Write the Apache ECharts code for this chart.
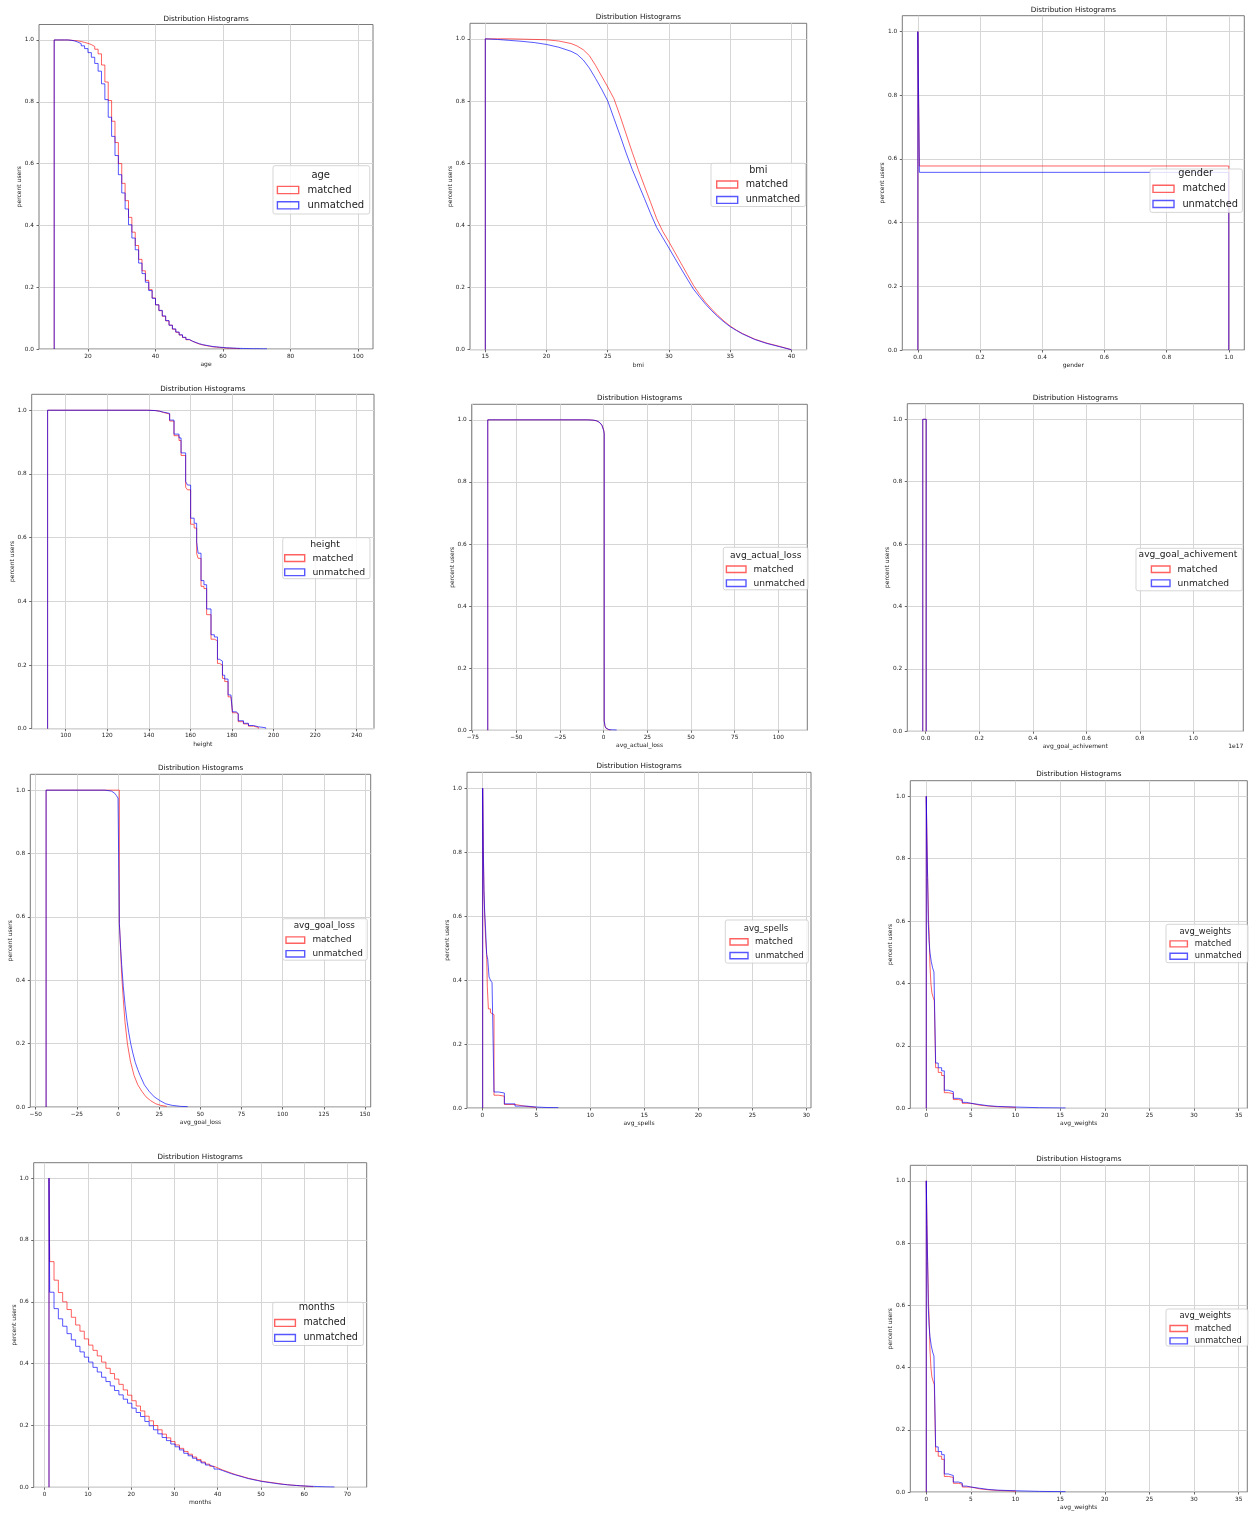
<!DOCTYPE html>
<html><head><meta charset="utf-8">
<script src="https://cdn.jsdelivr.net/npm/echarts@6/dist/echarts.min.js"></script>
<style>html,body{margin:0;padding:0;background:#fff}#c{width:1249px;height:1515px}</style>
</head><body><div id="c"></div>
<script>
// ---------------- data ----------------
const yTicks = [0, 0.2, 0.4, 0.6, 0.8, 1.0];
const ageTicks = [20, 40, 60, 80, 100];
const bmiTicks = [15, 20, 25, 30, 35, 40];
const genderTicks = [0, 0.2, 0.4, 0.6, 0.8, 1.0];
const heightTicks = [100, 120, 140, 160, 180, 200, 220, 240];
const actualLossTicks = [-75, -50, -25, 0, 25, 50, 75, 100];
const achTicks = [0, 0.2e17, 0.4e17, 0.6e17, 0.8e17, 1.0e17];
const goalLossTicks = [-50, -25, 0, 25, 50, 75, 100, 125, 150];
const spellsTicks = [0, 5, 10, 15, 20, 25, 30];
const weightsTicks = [0, 5, 10, 15, 20, 25, 30, 35];
const monthsTicks = [0, 10, 20, 30, 40, 50, 60, 70];

// age (bin edges, survival fraction per bin)
const ageEdges = [10,11,12,13,14,15,16,17,18,19,20,21,22,23,24,25,26,27,28,29,30,31,32,33,34,35,36,37,38,39,40,41,42,43,44,45,46,47,48,49,50,51,52,53,54,55,56,57,58,59,60,61,62,63,64,65,66,67,68,69,70,71,72,73];
const ageMatched = [1.0,1.0,1.0,1.0,0.999,0.998,0.997,0.995,0.992,0.989,0.985,0.979,0.97,0.955,0.919,0.864,0.804,0.737,0.668,0.6,0.536,0.48,0.426,0.378,0.335,0.29,0.253,0.222,0.192,0.165,0.143,0.124,0.106,0.091,0.077,0.064,0.054,0.045,0.037,0.03,0.025,0.02,0.016,0.013,0.011,0.009,0.007,0.006,0.005,0.004,0.003,0.0025,0.002,0.0015,0.001];
const ageUnmatched = [1.0,1.0,1.0,1.0,0.999,0.997,0.993,0.988,0.981,0.972,0.959,0.944,0.924,0.899,0.858,0.807,0.75,0.688,0.626,0.564,0.505,0.453,0.402,0.359,0.321,0.278,0.244,0.216,0.189,0.164,0.143,0.125,0.107,0.092,0.077,0.065,0.055,0.046,0.038,0.031,0.025,0.021,0.017,0.014,0.012,0.010,0.008,0.007,0.006,0.005,0.004,0.0035,0.003,0.0025,0.002,0.0018,0.0015,0.0012,0.001,0.001,0.0008,0.0006,0.0005];

// bmi (outline points)
const bmiX = [15,15,16,17,18,19,20,21,22,22.5,23,23.5,24,24.5,25,25.5,26,26.5,27,27.5,28,28.5,29,29.5,30,30.5,31,31.5,32,32.5,33,33.5,34,34.5,35,35.5,36,37,38,39,40];
const bmiMatched = [0,1.0,1.0,1.0,0.999,0.998,0.997,0.993,0.985,0.977,0.965,0.946,0.915,0.88,0.845,0.808,0.753,0.694,0.635,0.579,0.526,0.474,0.421,0.38,0.347,0.312,0.277,0.242,0.207,0.178,0.152,0.13,0.11,0.092,0.076,0.063,0.052,0.034,0.021,0.011,0.0];
const bmiUnmatched = [0,1.0,0.998,0.995,0.992,0.988,0.982,0.973,0.96,0.95,0.932,0.906,0.873,0.838,0.8,0.745,0.69,0.633,0.58,0.533,0.486,0.438,0.393,0.36,0.327,0.293,0.26,0.227,0.195,0.17,0.146,0.125,0.106,0.089,0.074,0.062,0.051,0.033,0.02,0.01,0.0];

// gender
const genderEdges = [0, 0.005, 1.0];
const genderMatched = [1.0, 0.578];
const genderUnmatched = [1.0, 0.558];

// height
const heightEdges = [91.3,139.0,143.0,145.1,147.0,150.0,152.1,154.5,155.5,157.7,158.6,160.1,161.8,163.0,163.7,165.1,166.5,167.8,169.9,171.5,173.0,174.0,175.4,176.5,178.1,179.5,180.2,182.0,183.0,185.5,187.9,190.3,192.7,196.2];
const heightMatched = [1.0,0.999,0.997,0.993,0.988,0.966,0.92,0.905,0.858,0.758,0.75,0.642,0.63,0.55,0.535,0.447,0.44,0.358,0.281,0.276,0.205,0.2,0.158,0.148,0.1,0.094,0.05,0.046,0.022,0.015,0.008,0.004];
const heightUnmatched = [1.0,0.999,0.997,0.994,0.99,0.969,0.925,0.913,0.866,0.776,0.765,0.661,0.645,0.586,0.551,0.465,0.452,0.376,0.295,0.288,0.218,0.212,0.168,0.156,0.106,0.102,0.053,0.048,0.025,0.017,0.01,0.006,0.003];

// avg_actual_loss (outline points)
const alMatchedX = [-66.4,-66.4,-8,-5,-3,-2,-1,0,0.3,0.3,0.7,1.2,2,3,4,4];
const alMatched = [0,1,1,0.998,0.994,0.99,0.983,0.967,0.957,0.03,0.014,0.007,0.003,0.0015,0.001,0];
const alUnmatchedX = [-66.4,-66.4,-10,-6,-4,-3,-2,-1,0,0.3,0.3,0.7,1.2,2,3,5,7.4,7.4];
const alUnmatched = [0,1,1,0.999,0.997,0.994,0.99,0.982,0.965,0.955,0.03,0.015,0.008,0.004,0.002,0.0015,0.001,0];

// avg_goal_achivement (single populated bin)
const achEdges = [-1.1e15, 2e14];
const achMatched = [1.0];
const achUnmatched = [1.0];

// avg_goal_loss (outline points)
const glMatchedX = [-43.7,-43.7,0.8,0.8,1.2,1.6,2.2,3.2,4.2,5.7,7.5,9.7,12,14.4,17,19.8,23,26,29.6,29.6];
const glMatched = [0,1,1,0.58,0.54,0.49,0.42,0.34,0.27,0.2,0.145,0.1,0.07,0.05,0.032,0.02,0.01,0.005,0.002,0];
const glUnmatchedX = [-43.7,-43.7,-8,-4,-2,-1,0,0.8,0.8,1.2,1.6,2.2,3.2,4.3,5.5,6.5,7.7,9,10.5,12,13.4,16,18.8,22,25.5,29,33,38,42.3,42.3];
const glUnmatched = [0,1,1,0.997,0.99,0.983,0.975,0.97,0.58,0.54,0.5,0.45,0.38,0.32,0.27,0.235,0.2,0.17,0.14,0.118,0.1,0.07,0.05,0.032,0.02,0.01,0.005,0.002,0.001,0];

// avg_spells
const spMatchedEdges = [0.03,0.09,0.15,0.22,0.3,0.4,0.46,0.56,0.75,0.9,1.08,1.5,2.04,3.02,4.04,5.0];
const spMatched = [1.0,0.82,0.68,0.6,0.53,0.48,0.38,0.31,0.298,0.292,0.04,0.037,0.011,0.005,0.002];
const spUnmatchedEdges = [0.03,0.09,0.15,0.22,0.3,0.4,0.5,0.62,0.75,0.9,1.08,1.5,2.04,3.02,4.04,5.0,6.0,7.04];
const spUnmatched = [1.0,0.80,0.68,0.61,0.56,0.48,0.465,0.41,0.4,0.392,0.05,0.047,0.013,0.006,0.003,0.0015,0.001];

// avg_weights
const wMatchedEdges = [0,0.07,0.15,0.22,0.26,0.34,0.41,0.52,0.63,0.78,0.9,1.05,1.34,1.72,2.02,2.47,3.03,3.6,4.03,5.0,6.0,7.0,8.0,10.0];
const wMatched = [1.0,0.88,0.74,0.655,0.6,0.55,0.46,0.4,0.37,0.355,0.345,0.13,0.115,0.105,0.05,0.047,0.028,0.025,0.016,0.01,0.007,0.005,0.003];
const wUnmatchedEdges = [0,0.07,0.15,0.22,0.3,0.41,0.56,0.71,0.86,1.05,1.34,1.72,2.02,2.47,3.03,3.6,4.03,4.5,5.0,6.0,7.0,8.0,10.0,12.7,15.6];
const wUnmatched = [1.0,0.86,0.74,0.6,0.54,0.5,0.47,0.45,0.437,0.145,0.13,0.12,0.058,0.053,0.032,0.029,0.019,0.016,0.012,0.008,0.006,0.004,0.002,0.001];

// months
const monthsEdges = [1,1.16,2.16,3.16,4.16,5.16,6.16,7.16,8.16,9.16,10.16,11.16,12.16,13.16,14.16,15.16,16.16,17.16,18.16,19.16,20.16,21.16,22.16,23.16,24.16,25.16,26.16,27.16,28.16,29.16,30.16,31.16,32.16,33.16,34.16,35.16,36.16,37.16,38.16,39.16,40.16,41.16,42.16,43.16,44.16,45.16,46.16,47.16,48.16,49.16,50.16,51.16,52.16,53.16,54.16,55.16,56.16,57.16,58.16,59.16,60.16,61.16,62.16,63.16,64.16,65.16,66.16,67.0];
const monthsMatched = [1.0,0.73,0.67,0.63,0.6,0.575,0.55,0.525,0.505,0.48,0.46,0.443,0.425,0.405,0.385,0.368,0.35,0.333,0.315,0.298,0.28,0.263,0.247,0.23,0.215,0.2,0.186,0.172,0.16,0.148,0.137,0.126,0.116,0.107,0.098,0.09,0.082,0.075,0.068,0.062,0.056,0.051,0.046,0.041,0.037,0.033,0.029,0.026,0.023,0.02,0.018,0.016,0.014,0.012,0.01,0.0085,0.007,0.006,0.005,0.004,0.003,0.002];
const monthsUnmatched = [1.0,0.631,0.578,0.545,0.521,0.497,0.477,0.456,0.438,0.421,0.405,0.388,0.373,0.356,0.342,0.328,0.313,0.299,0.285,0.272,0.256,0.242,0.229,0.213,0.199,0.186,0.173,0.161,0.151,0.14,0.131,0.121,0.11,0.102,0.094,0.086,0.079,0.072,0.066,0.059,0.054,0.049,0.044,0.04,0.036,0.032,0.028,0.025,0.022,0.019,0.017,0.015,0.013,0.011,0.0095,0.008,0.007,0.006,0.005,0.0042,0.0035,0.003,0.0025,0.002,0.0015,0.0012,0.001];

// ---------------- helpers ----------------
function stepPath(edges, vals) {
  const p = [[edges[0], 0]];
  for (let i = 0; i < vals.length; i++) { p.push([edges[i], vals[i]]); p.push([edges[i + 1], vals[i]]); }
  p.push([edges[vals.length], 0]);
  return p;
}
function zip(xs, ys) { return xs.map((x, i) => [x, ys[i]]); }
const fmtInt = v => (v < -1e-9 ? '\u2212' : '') + String(Math.abs(Math.round(v)));
const fmt1 = v => (Math.abs(v) < 1e-9 ? 0 : v).toFixed(1);
const fmtE17 = v => fmt1(v / 1e17);

const FONT = 'DejaVu Sans';
const RED = 'rgba(255,0,0,0.62)';
const BLUE = 'rgba(0,0,255,0.66)';
const GRIDC = '#d6d6d6';
const SPINE = '#7a7a7a';
const TXT = '#222';

const panels = [
  {x:'age', grid:[39,24.5,334,324.5], xr:[5.5,104.4], ticks:ageTicks, fmt:fmtInt, m:stepPath(ageEdges, ageMatched), u:stepPath(ageEdges, ageUnmatched), ty:19.3},
  {x:'bmi', grid:[470,23.3,336.7,326.4], xr:[13.75,41.25], ticks:bmiTicks, fmt:fmtInt, m:zip(bmiX, bmiMatched), u:zip(bmiX, bmiUnmatched), ty:17},
  {x:'gender', grid:[902.3,15.7,342,334.3], xr:[-0.05,1.05], ticks:genderTicks, fmt:fmt1, m:stepPath(genderEdges, genderMatched), u:stepPath(genderEdges, genderUnmatched), ty:10},
  {x:'height', grid:[31.7,394.3,342.3,334.4], xr:[83.65,248.3], ticks:heightTicks, fmt:fmtInt, m:stepPath(heightEdges, heightMatched), u:stepPath(heightEdges, heightUnmatched), ty:388.7},
  {x:'avg_actual_loss', grid:[471.7,404.3,335.6,326], xr:[-75.6,116.6], ticks:actualLossTicks, fmt:fmtInt, m:zip(alMatchedX, alMatched), u:zip(alUnmatchedX, alUnmatched), ty:398.3},
  {x:'avg_goal_achivement', grid:[907.3,403.7,336,327.6], xr:[-0.0688e17,1.1868e17], ticks:achTicks, fmt:fmtE17, m:stepPath(achEdges, achMatched), u:stepPath(achEdges, achUnmatched), ty:397.7},
  {x:'avg_goal_loss', grid:[30.3,774.3,340.4,332.7], xr:[-53.3,153.5], ticks:goalLossTicks, fmt:fmtInt, m:zip(glMatchedX, glMatched), u:zip(glUnmatchedX, glUnmatched), ty:768.3},
  {x:'avg_spells', grid:[467,772.3,344,335.7], xr:[-1.42,30.43], ticks:spellsTicks, fmt:fmtInt, m:stepPath(spMatchedEdges, spMatched), u:stepPath(spUnmatchedEdges, spUnmatched), ty:766},
  {x:'avg_weights', grid:[910.3,780.7,337,327.6], xr:[-1.79,35.97], ticks:weightsTicks, fmt:fmtInt, m:stepPath(wMatchedEdges, wMatched), u:stepPath(wUnmatchedEdges, wUnmatched), ty:774.3},
  {x:'months', grid:[33.7,1162.7,333,324.6], xr:[-2.54,74.47], ticks:monthsTicks, fmt:fmtInt, m:stepPath(monthsEdges, monthsMatched), u:stepPath(monthsEdges, monthsUnmatched), ty:1157},
  {x:'avg_weights', grid:[910.3,1165.3,337,326.7], xr:[-1.79,35.97], ticks:weightsTicks, fmt:fmtInt, m:stepPath(wMatchedEdges, wMatched), u:stepPath(wUnmatchedEdges, wUnmatched), ty:1159.3}
];

const legendLayout = [
  {box:[273,165.7,369,214], t:[320.7,175], p:[276.7,298], r:[190,205.3], tx:306.7, fs:10.0},
  {box:[711,163.3,805,205.7], t:[758.3,170], p:[716,737], r:[184.3,199.3], tx:745, fs:9.6},
  {box:[1150,169,1241.7,212], t:[1195.7,173.7], p:[1152.3,1173.3], r:[188.7,203.7], tx:1181.7, fs:9.8},
  {box:[282.7,537.7,369.3,579.3], t:[325,544.3], p:[284,304], r:[558.3,572.7], tx:311.7, fs:9.3},
  {box:[723.3,547.3,807.3,590], t:[765.7,555.7], p:[725.7,745.3], r:[569.3,583.3], tx:752.7, fs:9.1},
  {box:[1136,548.3,1241.7,591], t:[1188,554.7], p:[1150.7,1169.3], r:[569.3,583.3], tx:1176.7, fs:9.1},
  {box:[282.7,918.7,366.7,960], t:[324.3,926], p:[285.3,304], r:[940,953.7], tx:311.7, fs:8.9},
  {box:[725.3,920,807.7,962.3], t:[766,928.3], p:[729.3,747.3], r:[941.7,955], tx:754.3, fs:8.6},
  {box:[1166,924.3,1247.3,963.3], t:[1205.3,931.7], p:[1169.3,1186.7], r:[944,956.7], tx:1194, fs:8.3},
  {box:[272.7,1302.3,362.7,1344.7], t:[316.7,1307.7], p:[274,294.7], r:[1322.7,1337.3], tx:302.7, fs:9.6},
  {box:[1166,1309,1247.3,1346.7], t:[1205.3,1316.3], p:[1169.3,1186.7], r:[1328.7,1341.3], tx:1194, fs:8.3}
];

const grids = [], xAxes = [], yAxes = [], series = [], legends = [], graphics = [];
const TICKFS = 5.8, NAMEFS = 6;

panels.forEach((p, i) => {
  grids.push({left:p.grid[0], top:p.grid[1], width:p.grid[2], height:p.grid[3], show:true,
    borderColor:SPINE, borderWidth:1, backgroundColor:'#fff', containLabel:false, outerBoundsMode:'none'});
  xAxes.push({type:'value', gridIndex:i, min:p.xr[0], max:p.xr[1], position:'bottom',
    name:p.x, nameLocation:'middle', nameGap:12.5, nameMoveOverlap:false,
    nameTextStyle:{fontSize:NAMEFS, fontFamily:FONT, color:TXT},
    axisLine:{show:false, onZero:false},
    axisTick:{show:true, inside:false, length:2.5, customValues:p.ticks, lineStyle:{color:'#444', width:0.8}},
    axisLabel:{show:true, customValues:p.ticks, formatter:p.fmt, fontSize:TICKFS, fontFamily:FONT, color:TXT, margin:4, hideOverlap:false},
    splitLine:{show:false}});
  yAxes.push({type:'value', gridIndex:i, min:0, max:1.05, interval:0.2, position:'left',
    name:'percent users', nameLocation:'middle', nameGap:16.5, nameRotate:90, nameMoveOverlap:false,
    nameTextStyle:{fontSize:NAMEFS, fontFamily:FONT, color:TXT},
    axisLine:{show:false, onZero:false},
    axisTick:{show:true, inside:false, length:2.5, customValues:yTicks, lineStyle:{color:'#444', width:0.8}},
    axisLabel:{show:true, customValues:yTicks, formatter:v => fmt1(v), fontSize:TICKFS, fontFamily:FONT, color:TXT, margin:5, hideOverlap:false},
    splitLine:{show:true, lineStyle:{color:GRIDC, width:1}}});
  // vertical grid lines at the x tick values
  series.push({type:'line', name:'grid' + i, xAxisIndex:i, yAxisIndex:i, data:[[p.xr[0], 0]],
    symbol:'none', showSymbol:false, lineStyle:{opacity:0}, silent:true, z:1, animation:false,
    markLine:{silent:true, symbol:['none','none'], z:1, animation:false, label:{show:false},
      emphasis:{disabled:true}, lineStyle:{color:GRIDC, width:1, type:'solid'},
      data:p.ticks.map(v => ({xAxis:v}))}});
  series.push({type:'line', name:'matched', xAxisIndex:i, yAxisIndex:i, data:p.m,
    symbol:'none', showSymbol:false, silent:true, animation:false, z:2,
    lineStyle:{color:RED, width:1}, itemStyle:{color:RED}, emphasis:{disabled:true}});
  series.push({type:'line', name:'unmatched', xAxisIndex:i, yAxisIndex:i, data:p.u,
    symbol:'none', showSymbol:false, silent:true, animation:false, z:3,
    lineStyle:{color:BLUE, width:1}, itemStyle:{color:BLUE}, emphasis:{disabled:true}});

  const L = legendLayout[i];
  const fs = L.fs;
  const iw = L.p[1] - L.p[0];
  const ih = fs * 0.72;
  const padL = L.p[0] - L.box[0];
  const padT = L.r[0] - L.box[1] - fs / 2;
  const gap = (L.r[1] - L.r[0]) - fs;
  const padB = L.box[3] - L.r[1] - fs / 2;
  const tpad = Math.max(0, L.tx - L.p[1] - 5);
  const contentW = iw + 5 + tpad + 5.681 * fs;
  const padR = Math.max(0, (L.box[2] - L.box[0]) - padL - contentW);
  legends.push({show:true, orient:'vertical', left:L.box[0], top:L.box[1],
    padding:[padT, padR, padB, padL], itemWidth:iw, itemHeight:ih, itemGap:gap,
    selectedMode:false, backgroundColor:'rgba(255,255,255,0.8)', borderColor:'rgba(204,204,204,0.8)',
    borderWidth:1, borderRadius:2, z:4,
    textStyle:{fontSize:fs, fontFamily:FONT, color:TXT, padding:[0,0,0,tpad]},
    data:[
      {name:'matched', icon:'rect', itemStyle:{color:'rgba(255,255,255,0)', borderColor:RED, borderWidth:1.4}},
      {name:'unmatched', icon:'rect', itemStyle:{color:'rgba(255,255,255,0)', borderColor:BLUE, borderWidth:1.4}}
    ]});
  graphics.push({type:'text', x:L.t[0], y:L.t[1], z:100, silent:true,
    style:{text:p.x, fontSize:fs, fontFamily:FONT, fill:TXT, align:'center', verticalAlign:'middle'}});
  graphics.push({type:'text', x:p.grid[0] + p.grid[2] / 2, y:p.ty, z:100, silent:true,
    style:{text:'Distribution Histograms', fontSize:7.2, fontFamily:FONT, fill:'#111', align:'center', verticalAlign:'middle'}});
});
graphics.push({type:'text', x:1235.7, y:746.7, z:100, silent:true,
  style:{text:'1e17', fontSize:6, fontFamily:FONT, fill:TXT, align:'center', verticalAlign:'middle'}});

const chart = echarts.init(document.getElementById('c'), null, {renderer:'canvas'});
chart.setOption({
  animation:false,
  backgroundColor:'#fff',
  textStyle:{fontFamily:FONT},
  grid:grids, xAxis:xAxes, yAxis:yAxes, series:series, legend:legends,
  graphic:{elements:graphics}
});
</script>
</body></html>
